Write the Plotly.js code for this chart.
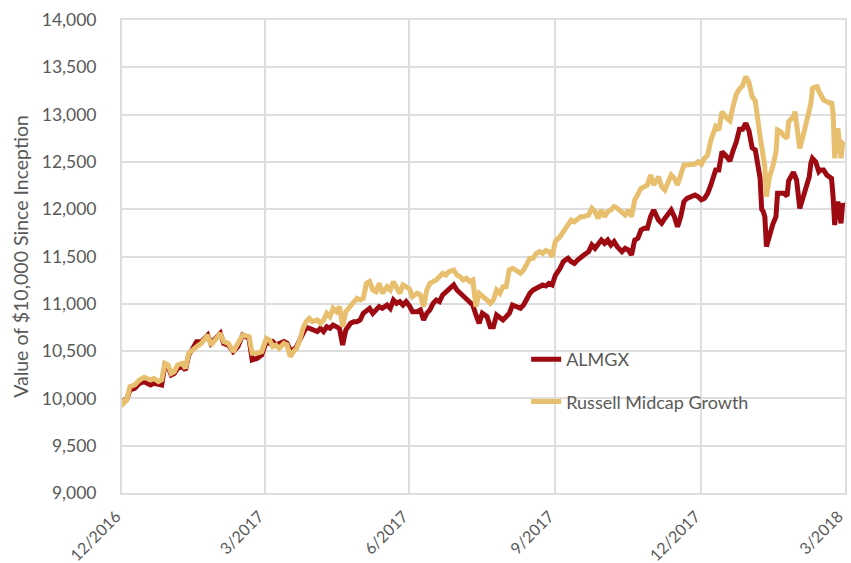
<!DOCTYPE html>
<html>
<head>
<meta charset="utf-8">
<script src="https://cdn.plot.ly/plotly-3.0.1.min.js"></script>
<style>html,body{margin:0;padding:0;background:#fff;}#chart{width:851px;height:563px;}</style>
</head>
<body>
<div id="chart"></div>
<script>
var dates = [
'2016-12-31','2017-01-01','2017-01-03','2017-01-05','2017-01-08','2017-01-11','2017-01-14','2017-01-18','2017-01-20','2017-01-23',
'2017-01-25','2017-01-27','2017-01-29','2017-01-31','2017-02-02','2017-02-04','2017-02-07','2017-02-09','2017-02-11','2017-02-13',
'2017-02-16','2017-02-19','2017-02-23','2017-02-25','2017-02-28','2017-03-03','2017-03-05','2017-03-08','2017-03-11','2017-03-14',
'2017-03-17','2017-03-21','2017-03-23','2017-03-26','2017-03-29','2017-04-01','2017-04-03','2017-04-05','2017-04-07','2017-04-09',
'2017-04-12','2017-04-14','2017-04-16','2017-04-18','2017-04-20','2017-04-22','2017-04-24','2017-04-26','2017-04-28','2017-04-30',
'2017-05-03','2017-05-05','2017-05-07','2017-05-09','2017-05-11','2017-05-13','2017-05-15','2017-05-17','2017-05-19','2017-05-21',
'2017-05-24','2017-05-26','2017-05-28','2017-05-30','2017-06-01','2017-06-03','2017-06-05','2017-06-07','2017-06-09','2017-06-11',
'2017-06-13','2017-06-16','2017-06-18','2017-06-20','2017-06-22','2017-06-24','2017-06-26','2017-06-28','2017-06-30','2017-07-02',
'2017-07-05','2017-07-07','2017-07-09','2017-07-11','2017-07-13','2017-07-15','2017-07-17','2017-07-19','2017-07-21','2017-07-23',
'2017-07-25','2017-07-28','2017-07-30','2017-08-01','2017-08-03','2017-08-05','2017-08-07','2017-08-09','2017-08-11','2017-08-13',
'2017-08-15','2017-08-18','2017-08-20','2017-08-22','2017-08-24','2017-08-26','2017-08-28','2017-08-30','2017-09-01','2017-09-03',
'2017-09-05','2017-09-08','2017-09-10','2017-09-12','2017-09-14','2017-09-16','2017-09-18','2017-09-20','2017-09-22','2017-09-24',
'2017-09-26','2017-09-28','2017-09-30','2017-10-03','2017-10-05','2017-10-07','2017-10-08','2017-10-10','2017-10-12','2017-10-14',
'2017-10-16','2017-10-18','2017-10-21','2017-10-23','2017-10-25','2017-10-27','2017-10-29','2017-10-31','2017-11-02','2017-11-04',
'2017-11-06','2017-11-08','2017-11-11','2017-11-13','2017-11-15','2017-11-17','2017-11-19','2017-11-21','2017-11-23','2017-11-25',
'2017-11-27','2017-11-29','2017-12-01','2017-12-04','2017-12-06','2017-12-08','2017-12-10','2017-12-12','2017-12-14','2017-12-16',
'2017-12-18','2017-12-20','2017-12-22','2017-12-25','2017-12-27','2017-12-29','2017-12-31','2018-01-02','2018-01-04','2018-01-06',
'2018-01-08','2018-01-09','2018-01-11','2018-01-13','2018-01-16','2018-01-18','2018-01-20','2018-01-22','2018-01-24','2018-01-26',
'2018-01-28','2018-01-30','2018-02-01','2018-02-03','2018-02-06','2018-02-07','2018-02-08','2018-02-09','2018-02-10','2018-02-12',
'2018-02-14','2018-02-16','2018-02-17','2018-02-19','2018-02-21','2018-02-23','2018-02-24','2018-02-27','2018-02-28','2018-03-01',
'2018-03-03','2018-03-05','2018-03-07','2018-03-09','2018-03-10','2018-03-11','2018-03-13','2018-03-14','2018-03-15','2018-03-16',
'2018-03-18','2018-03-20','2018-03-22','2018-03-23','2018-03-24','2018-03-25','2018-03-26','2018-03-27','2018-03-29','2018-03-30',
'2018-03-31'
];

var almgx = [
10000,9966,9990,10089,10106,10159,10177,10142,10159,10142,
10142,10353,10335,10247,10265,10318,10335,10300,10459,10512,
10600,10600,10670,10582,10635,10688,10582,10564,10494,10547,
10670,10635,10406,10423,10459,10600,10582,10600,10564,10582,
10600,10582,10512,10512,10547,10617,10688,10751,10741,10723,
10706,10741,10706,10758,10741,10776,10758,10741,10564,10723,
10794,10811,10811,10829,10899,10935,10952,10899,10935,10970,
10952,10987,10952,11040,11005,11023,10987,11023,10980,10917,
10917,10935,10829,10899,10935,11005,11040,11023,11093,11128,
11164,11199,11146,11111,11075,11040,11023,10987,10882,10794,
10899,10864,10758,10758,10882,10846,10829,10864,10899,10987,
10970,10952,10987,11058,11111,11146,11164,11181,11199,11188,
11216,11199,11300,11375,11445,11470,11481,11445,11428,11463,
11498,11516,11551,11622,11586,11622,11674,11639,11674,11622,
11657,11604,11551,11586,11569,11516,11674,11692,11780,11798,
11798,11921,11992,11886,11851,11903,11956,11992,11921,11815,
11921,12080,12115,12132,12150,12132,12100,12115,12168,12256,
12400,12414,12414,12608,12555,12510,12620,12710,12845,12845,
12908,12830,12650,12626,12330,12000,11974,11921,11604,11730,
11840,11921,12168,12168,12168,12140,12300,12390,12360,12309,
12009,12132,12221,12344,12485,12538,12502,12450,12397,12414,
12414,12362,12344,12326,12132,11833,11992,12080,11851,12060,
12027
];

var russell = [
10000,9948,9983,10124,10142,10195,10223,10195,10212,10177,
10195,10371,10353,10265,10283,10353,10371,10318,10476,10512,
10547,10582,10670,10564,10635,10688,10600,10582,10494,10582,
10670,10653,10476,10476,10494,10635,10617,10547,10564,10529,
10582,10564,10441,10494,10529,10617,10741,10811,10846,10811,
10829,10794,10829,10899,10864,10952,10917,10970,10758,10917,
10987,11023,11058,11040,11058,11216,11234,11146,11128,11216,
11111,11181,11146,11234,11181,11111,11199,11181,11160,11075,
11111,11093,10970,11146,11216,11234,11252,11287,11322,11304,
11340,11357,11304,11287,11252,11269,11234,11252,10970,11111,
11075,11040,11005,11040,11146,11111,11181,11181,11357,11375,
11357,11322,11357,11410,11481,11481,11533,11551,11533,11562,
11551,11498,11660,11710,11762,11815,11851,11886,11868,11903,
11921,11921,11939,12009,11974,11903,11992,11921,11974,11992,
12027,12009,11974,11939,11992,11921,12097,12150,12221,12238,
12256,12362,12256,12344,12238,12203,12291,12362,12326,12256,
12362,12467,12467,12467,12478,12502,12475,12538,12573,12731,
12850,12872,12837,13031,12961,12935,13090,13215,13270,13305,
13401,13340,13190,13145,12767,12661,12555,12450,12132,12344,
12450,12600,12837,12820,12775,12749,12925,12978,13031,12855,
12643,12767,12943,13049,13119,13278,13295,13295,13250,13207,
13154,13137,13119,13137,13013,12538,12661,12855,12538,12700,
12714
];

var seriesNames = ['ALMGX', 'Russell Midcap Growth'];
var tickDates = ['2016-12-31','2017-03-31','2017-06-30','2017-09-30','2017-12-31','2018-03-31'];
var tickLabels = ['12/2016','3/2017','6/2017','9/2017','12/2017','3/2018'];
var yTicks = [9000, 9500, 10000, 10500, 11000, 11500, 12000, 12500, 13000, 13500, 14000];

var grey = '#595959';
var gridc = '#dedede';
var fontFam = 'Lato, "Open Sans", sans-serif';
var pad = '\u00a0\u00a0';

var traces = [
  {x: dates, y: almgx, name: seriesNames[0], type: 'scatter', mode: 'lines',
   line: {color: '#9E0A12', width: 5}, legendgroup: 'a'},
  {x: dates, y: russell, name: seriesNames[1], type: 'scatter', mode: 'lines',
   line: {color: '#E8BF6E', width: 5}, legendgroup: 'b'}
];

var layout = {
  width: 851, height: 563,
  margin: {l: 122, r: 6, t: 20, b: 70},
  paper_bgcolor: '#ffffff', plot_bgcolor: '#ffffff',
  font: {family: fontFam, color: grey, size: 17},
  showlegend: true,
  legend: {x: 0.559, y: 0.3215, xanchor: 'left', yanchor: 'top',
    bgcolor: 'rgba(0,0,0,0)', font: {family: fontFam, size: 18, color: grey},
    tracegroupgap: 16},
  xaxis: {
    type: 'date', range: ['2016-12-31', '2018-03-31 12:00'],
    tickmode: 'array', tickvals: tickDates,
    ticktext: tickLabels.map(function (t) { return t + pad; }),
    tickangle: -45, tickfont: {family: fontFam, size: 16, color: grey},
    ticklabeloverflow: 'allow',
    showgrid: true, gridcolor: gridc, gridwidth: 2,
    showline: true, linecolor: gridc, linewidth: 2, mirror: true,
    zeroline: false, ticks: ''
  },
  yaxis: {
    range: [9000, 14000], tickmode: 'array', tickvals: yTicks,
    tickformat: ',d', tickfont: {family: fontFam, size: 17.5, color: grey},
    ticklabeloverflow: 'allow',
    showgrid: true, gridcolor: gridc, gridwidth: 2,
    showline: true, linecolor: gridc, linewidth: 2, mirror: true,
    zeroline: false, ticks: 'outside', ticklen: 20, tickcolor: 'rgba(0,0,0,0)',
    title: {text: 'Value of $10,000 Since Inception', font: {family: fontFam, size: 19.5, color: grey}, standoff: 8}
  }
};

Plotly.newPlot('chart', traces, layout, {staticPlot: true, displayModeBar: false});
</script>
</body>
</html>
